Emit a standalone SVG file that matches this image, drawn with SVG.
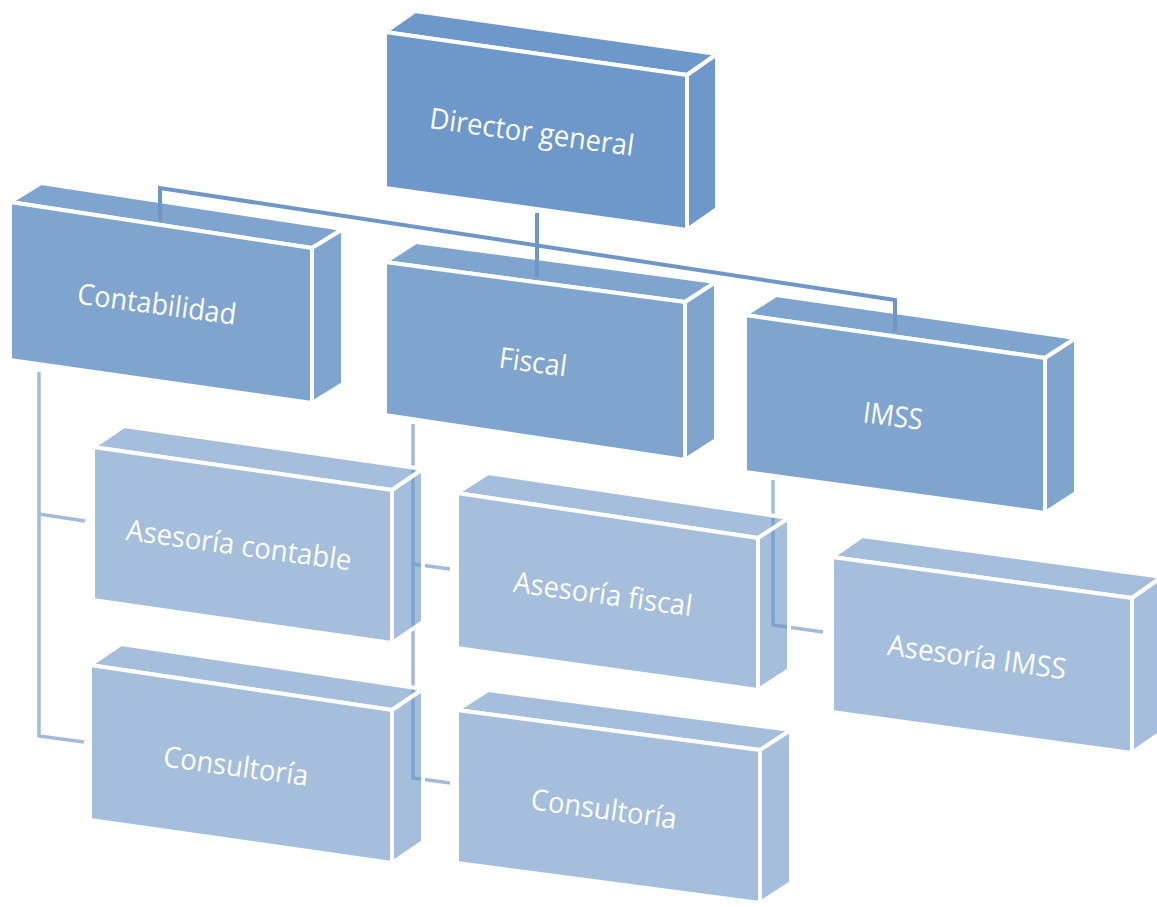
<svg xmlns="http://www.w3.org/2000/svg" width="1157" height="907" viewBox="0 0 1157 907">
<style>
.f1{fill:#6D98C9;stroke:#fff;stroke-width:4;stroke-linejoin:miter}
.f2{fill:#7FA5CF;stroke:#fff;stroke-width:4;stroke-linejoin:miter}
.f3{fill:#A5BEDC;stroke:#fff;stroke-width:4;stroke-linejoin:miter}
.s3{fill:#6993C5;fill-opacity:0.6;stroke:#fff;stroke-width:4;stroke-linejoin:miter}
.t{fill:#fff;font-family:"Open Sans","Liberation Sans",sans-serif;font-size:29px;text-anchor:middle}
.c1{fill:none;stroke:#6E97C8;stroke-width:4}
.c2{fill:none;stroke:#A3BBDA;stroke-width:3.5}
</style>
<rect width="1157" height="907" fill="#fff"/>
<g id="director">
<polygon class="f1" points="385,32 687,75 717,54 415,11"/>
<polygon class="f1" points="687,75 717,54 717,209 687,230"/>
<polygon class="f1" points="385,32 687,75 687,230 385,188"/>
<text class="t" x="532" y="132" dy="0.35em" transform="rotate(7.8 532 132)" textLength="206" lengthAdjust="spacingAndGlyphs">Director general</text>
</g>
<g id="contabilidad">
<polygon class="f2" points="10,202 312,248 343,229 41,183"/>
<polygon class="f2" points="312,248 343,229 343,384 312,403"/>
<polygon class="f2" points="10,202 312,248 312,403 10,360"/>
<text class="t" x="157" y="304" dy="0.35em" transform="rotate(7.6 157 304)" textLength="160" lengthAdjust="spacingAndGlyphs">Contabilidad</text>
</g>
<g id="fiscal">
<polygon class="f2" points="385,262 685,302 716,282 416,242"/>
<polygon class="f2" points="685,302 716,282 716,440 685,460"/>
<polygon class="f2" points="385,262 685,302 685,460 385,415"/>
<text class="t" x="533" y="362" dy="0.35em" transform="rotate(7.5 533 362)" textLength="68" lengthAdjust="spacingAndGlyphs">Fiscal</text>
</g>
<g id="imss">
<polygon class="f2" points="745,315 1045,358 1076,338 776,295"/>
<polygon class="f2" points="1045,358 1076,338 1076,493 1045,513"/>
<polygon class="f2" points="745,315 1045,358 1045,513 745,472"/>
<text class="t" x="893" y="416" dy="0.35em" transform="rotate(7.5 893 416)" textLength="60" lengthAdjust="spacingAndGlyphs">IMSS</text>
</g>
<g id="connectors">
<path class="c1" d="M537,213 V277"/>
<path class="c1" d="M160,221 V188 L895,300 V332"/>
<path class="c2" d="M39,372 V736 L84,742 M39,514 L85,521"/>
<path class="c2" d="M413,424 V778 L450,783 M413,564 L450,569"/>
<path class="c2" d="M773,480 V625 L823,632"/>
</g>
<g id="asesoria-contable">
<polygon class="s3" points="93,447 392,490 423,469 124,426"/>
<polygon class="s3" points="392,490 423,469 423,622 392,643"/>
<polygon class="f3" points="93,447 392,490 392,643 93,600"/>
<text class="t" x="239" y="545" dy="0.35em" transform="rotate(7.8 239 545)" textLength="227" lengthAdjust="spacingAndGlyphs">Asesoría contable</text>
</g>
<g id="asesoria-fiscal">
<polygon class="s3" points="457,493 758,538 789,518 488,473"/>
<polygon class="s3" points="758,538 789,518 789,670 758,690"/>
<polygon class="f3" points="457,493 758,538 758,690 457,648"/>
<text class="t" x="603" y="594" dy="0.35em" transform="rotate(7.8 603 594)" textLength="180" lengthAdjust="spacingAndGlyphs">Asesoría fiscal</text>
</g>
<g id="asesoria-imss">
<polygon class="s3" points="832,557 1132,598 1162,577 862,536"/>
<polygon class="s3" points="1132,598 1162,577 1162,732 1132,753"/>
<polygon class="f3" points="832,557 1132,598 1132,753 832,712"/>
<text class="t" x="977" y="657" dy="0.35em" transform="rotate(7.8 977 657)" textLength="180" lengthAdjust="spacingAndGlyphs">Asesoría IMSS</text>
</g>
<g id="consultoria-contable">
<polygon class="s3" points="90,665 392,710 423,689 121,644"/>
<polygon class="s3" points="392,710 423,689 423,842 392,863"/>
<polygon class="f3" points="90,665 392,710 392,863 90,820"/>
<text class="t" x="236" y="766" dy="0.35em" transform="rotate(7.8 236 766)" textLength="146" lengthAdjust="spacingAndGlyphs">Consultoría</text>
</g>
<g id="consultoria-fiscal">
<polygon class="s3" points="457,710 760,750 791,730 488,690"/>
<polygon class="s3" points="760,750 791,730 791,883 760,903"/>
<polygon class="f3" points="457,710 760,750 760,903 457,863"/>
<text class="t" x="604" y="809" dy="0.35em" transform="rotate(7.8 604 809)" textLength="147" lengthAdjust="spacingAndGlyphs">Consultoría</text>
</g>
</svg>
